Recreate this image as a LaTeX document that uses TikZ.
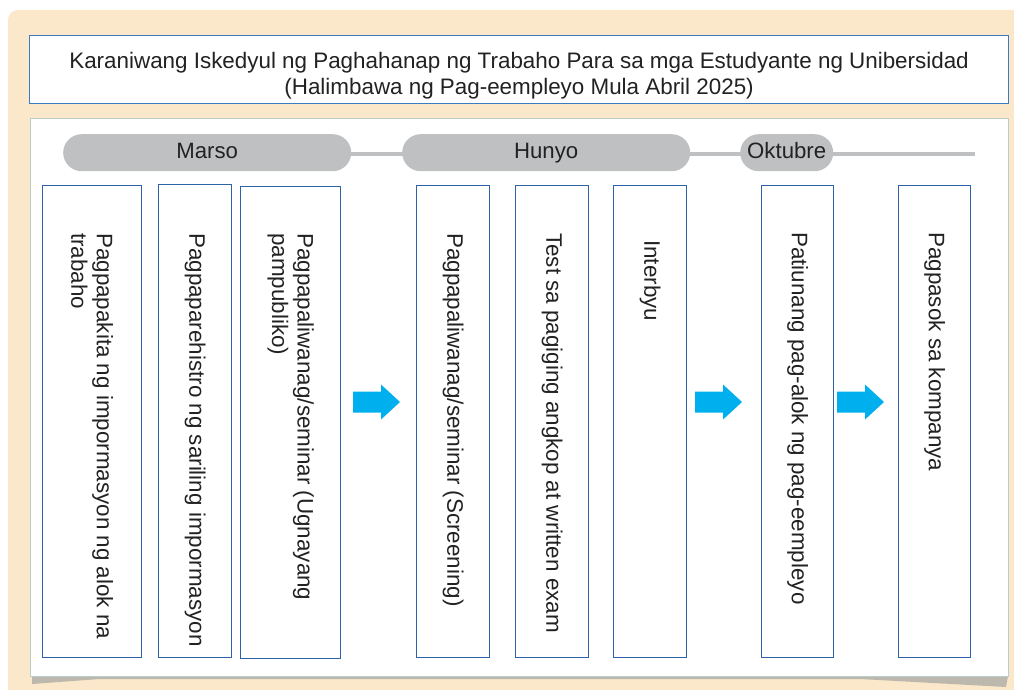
\documentclass[tikz,border=0pt]{standalone}
\usepackage{fontspec}
\setmainfont{Liberation Sans}
\definecolor{beige}{HTML}{FBE7C9}
\definecolor{titleblue}{HTML}{3A7CBF}
\definecolor{boxblue}{HTML}{2E62A8}
\definecolor{panelborder}{HTML}{B9CDCB}
\definecolor{pillgray}{HTML}{BFC0C2}
\definecolor{arrowcyan}{HTML}{00B0EE}
\definecolor{txt}{HTML}{222222}
\definecolor{shadowgray}{HTML}{BDB8AE}
\tikzset{
  stepbox/.style={draw=boxblue, line width=1.3pt, fill=white},
  steptext/.style={rotate=-90, anchor=west, align=left, text=txt, font=\fontsize{22.4}{25.5}\selectfont, inner sep=0pt},
  pill/.style={fill=pillgray, rounded corners=18.5pt},
  pilltext/.style={text=txt, font=\fontsize{22.2}{25}\selectfont, inner sep=0pt, anchor=base},
  flow/.style={fill=arrowcyan, draw=none},
}
\begin{document}
\begin{tikzpicture}[x=1pt,y=-1pt]
\useasboundingbox (0,0) rectangle (1014,690);
% background
\fill[white] (0,0) rectangle (1014,690);
\begin{scope}
\clip (0,0) rectangle (1014,690);
\fill[beige, rounded corners=10pt] (8,10) rectangle (1040,720);
\end{scope}
% title box
\node[draw=titleblue, line width=1.2pt, fill=white, minimum width=979pt, minimum height=68pt, inner sep=0pt, anchor=north west] (title) at (29,35) {};
\node[align=center, text=txt, font=\fontsize{22.4}{26}\selectfont, inner sep=0pt] (titletext) at ([yshift=-6pt]title.center)
  {Karaniwang Iskedyul ng Paghahanap ng Trabaho Para sa mga Estudyante ng Unibersidad\\(Halimbawa ng Pag-eempleyo Mula Abril 2025)};
% panel shadow
\fill[shadowgray] (32,676) -- (32,684) -- (100,679) -- (860,679) -- (1006,687) -- (1008,676) -- cycle;
% main panel
\node[draw=panelborder, line width=1.2pt, fill=white, minimum width=978pt, minimum height=558pt, inner sep=0pt, anchor=north west] (panel) at (30,118) {};
% timeline
\coordinate (tlstart) at (350,154);
\coordinate (tlend) at (975,154);
\draw[pillgray, line width=4pt] (tlstart) -- (tlend);
\node[pill, minimum width=288pt, minimum height=37pt, inner sep=0pt, anchor=north west] (marso) at (63,134) {};
\node[pilltext] at (marso.center |- 0,158.5) {Marso};
\node[pill, minimum width=288pt, minimum height=37pt, inner sep=0pt, anchor=north west] (hunyo) at (402,134) {};
\node[pilltext] at (hunyo.center |- 0,158.5) {Hunyo};
\node[pill, minimum width=93pt, minimum height=37pt, inner sep=0pt, anchor=north west] (oktubre) at (740,134) {};
\node[pilltext] at (oktubre.center |- 0,158.5) {Oktubre};
% boxes
\node[stepbox, minimum width=99pt, minimum height=472pt, inner sep=0pt, anchor=north west] (b1) at (42,185) {};
\node[stepbox, minimum width=73pt, minimum height=473pt, inner sep=0pt, anchor=north west] (b2) at (158,184) {};
\node[stepbox, minimum width=100pt, minimum height=472pt, inner sep=0pt, anchor=north west] (b3) at (240,186) {};
\node[stepbox, minimum width=73pt, minimum height=472pt, inner sep=0pt, anchor=north west] (b4) at (416,185) {};
\node[stepbox, minimum width=73pt, minimum height=472pt, inner sep=0pt, anchor=north west] (b5) at (515,185) {};
\node[stepbox, minimum width=73pt, minimum height=472pt, inner sep=0pt, anchor=north west] (b6) at (613,185) {};
\node[stepbox, minimum width=72pt, minimum height=472pt, inner sep=0pt, anchor=north west] (b7) at (761,185) {};
\node[stepbox, minimum width=72pt, minimum height=472pt, inner sep=0pt, anchor=north west] (b8) at (898,185) {};
% texts
\node[steptext] (t1) at (b1.center |- 0,233) {Pagpapakita ng impormasyon ng alok na\\trabaho};
\node[steptext] (t2) at (b2.center |- 0,233) {Pagpaparehistro ng sariling impormasyon};
\node[steptext] (t3) at (b3.center |- 0,233) {Pagpapaliwanag/seminar (Ugnayang\\pampubliko)};
\node[steptext] (t4) at (b4.center |- 0,233) {Pagpapaliwanag/seminar (Screening)};
\node[steptext] (t5) at (b5.center |- 0,233) {Test sa pagiging angkop at written exam};
\node[steptext] (t6) at (b6.center |- 0,240) {Interbyu};
\node[steptext] (t7) at (b7.center |- 0,232) {Patiunang pag-alok ng pag-eempleyo};
\node[steptext] (t8) at (b8.center |- 0,232) {Pagpasok sa kompanya};
% arrows
\foreach \xa/\nm in {353/a1, 695/a2, 837/a3}{
  \fill[flow] (\xa,391.5) -- (\xa+28,391.5) -- (\xa+28,384.5) -- (\xa+47,402) -- (\xa+28,419.5) -- (\xa+28,412.5) -- (\xa,412.5) -- cycle;
}
\end{tikzpicture}
\end{document}
